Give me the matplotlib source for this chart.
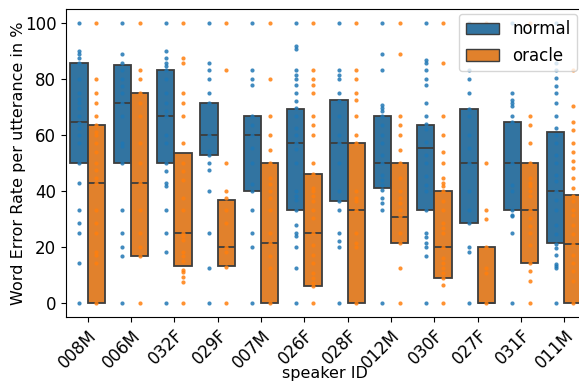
import numpy as np
import matplotlib
matplotlib.use("Agg")
import matplotlib.pyplot as plt
from matplotlib.patches import Patch

speakers = ["008M", "006M", "032F", "029F", "007M", "026F",
            "028F", "012M", "030F", "027F", "031F", "011M"]

# box stats (WER %)
normal_q1 = [50.0, 50.0, 50.0, 52.7, 40.0, 33.3, 36.2, 40.9, 33.3, 28.6, 33.3, 21.3]
normal_med = [64.5, 71.4, 66.7, 60.0, 60.0, 57.1, 57.1, 50.0, 55.5, 50.0, 50.0, 40.0]
normal_q3 = [85.7, 85.0, 83.3, 71.4, 66.7, 69.2, 72.6, 66.7, 63.6, 69.2, 64.6, 61.1]

oracle_q1 = [0.0, 16.7, 13.1, 13.1, 0.0, 5.8, 0.0, 21.3, 8.7, 0.0, 14.3, 0.0]
oracle_med = [42.9, 42.9, 25.0, 20.0, 21.4, 25.0, 33.3, 30.8, 20.0, 0.0, 33.3, 20.8]
oracle_q3 = [63.6, 75.0, 53.4, 36.8, 50.0, 46.1, 57.1, 50.0, 40.0, 20.0, 50.0, 38.5]

# individual utterance WERs (unique values visible)
normal_points = [
    [100, 90, 89, 87.5, 85.7, 80, 75, 72.7, 71.4, 69.6, 66.7, 64.3, 62.5, 60, 57.1, 50, 42.9, 33.3, 28.6, 25, 14.3, 0],
    [100, 88.9, 85.7, 83.3, 80, 77.4, 75, 71.4, 66.7, 57.1, 55.9, 50, 33.3, 25, 20, 16.6, 0],
    [100, 90, 87.5, 85.7, 84.5, 83.3, 80, 75, 71.4, 68.4, 66.7, 60, 57.1, 50, 47, 42.8, 41.6, 33.3, 25, 18.1, 0],
    [100, 85.7, 83.3, 80, 75, 71.4, 60, 54.1, 52.7, 50, 47.3, 40, 25, 12.4, 0],
    [100, 83.3, 80, 77.7, 66.7, 63.6, 60, 55.5, 50, 42.5, 40, 33.3, 25, 20, 0],
    [100, 91.7, 90.7, 83.3, 81.5, 80, 77.7, 75, 72.2, 69.8, 66.7, 62.5, 60, 57.1, 55, 50, 39.8, 38, 36.6, 33.3, 27.9, 25, 23.7, 20, 12.4, 0],
    [100, 83.3, 81.5, 80, 75, 72.2, 66.7, 60, 57.1, 50, 39.8, 36.2, 33.3, 25, 22.2, 20, 0],
    [100, 88.9, 83.3, 70.8, 69.8, 68.4, 66.7, 63.6, 60, 57.1, 52.9, 50, 45.8, 44, 42, 40.4, 37.4, 35.6, 33.3, 0],
    [100, 86.9, 85.7, 83.3, 80, 77.7, 71.4, 66.7, 63.9, 62, 57.5, 52.9, 50, 45.2, 42, 40, 33.3, 25, 23.4, 21.3, 20, 16.6, 0],
    [100, 90, 83.3, 80, 75, 69.4, 66.7, 60, 55.5, 50, 40, 33.3, 28.5, 20, 18.1, 0],
    [100, 75, 72.6, 71.4, 70.2, 66.7, 64.8, 50, 42, 40, 33.3, 31.5, 31, 25, 0],
    [100, 85.7, 83.3, 80.3, 77.4, 75, 71.4, 66.7, 62.5, 60, 57.1, 52.9, 50, 45.8, 43.5, 40, 36.6, 33.3, 27.9, 24.4, 20.8, 19.5, 16.9, 13.8, 13, 12.4, 0],
]
oracle_points = [
    [100, 80, 75, 71.4, 66.7, 63.6, 61, 60, 57.1, 53.8, 50, 47.4, 44.6, 42.9, 33.3, 28.5, 25, 18.1, 16.9, 14.2, 0],
    [100, 83.3, 80, 75, 71.4, 66.7, 57.1, 50, 42.9, 33.3, 25, 20, 16.7, 0],
    [100, 87.5, 85.7, 75, 71.4, 66.7, 57.1, 50, 47.2, 43.7, 37.4, 33.3, 25, 23.7, 22.5, 18.1, 16.6, 14.8, 11.8, 11, 9.1, 7.3, 0],
    [100, 83.3, 50, 40, 37.4, 33.3, 28.5, 20, 18.1, 12.8, 0],
    [100, 80, 66.7, 60, 54.5, 50, 44.6, 42.5, 39.8, 37.4, 33.3, 25, 21.3, 16.8, 12.4, 0],
    [100, 83.3, 80, 77.7, 75, 66.7, 63.6, 60, 50, 46, 41, 39.8, 38, 36.2, 33.3, 30.3, 25, 20.7, 17.2, 14.2, 10.6, 8.8, 7, 5.8, 0],
    [100, 83.3, 80, 75, 72.6, 66.7, 60, 57.1, 39.8, 37.4, 36.2, 33.3, 25, 21.3, 20, 0],
    [100, 88.9, 66.7, 63.6, 60, 54.5, 50, 44.6, 39.8, 37.4, 35.6, 33.3, 30.9, 25, 21.3, 12.4, 0],
    [100, 85.7, 66.7, 60, 53.9, 50, 44.6, 42.9, 41.6, 39.8, 36.2, 33.3, 28.5, 26.7, 25, 20, 16.1, 14.2, 12.4, 10.6, 8.8, 6.4, 0],
    [100, 50, 33.3, 30, 20, 12.4, 10.6, 0],
    [100, 66.7, 63.6, 57.1, 50, 44.6, 42.9, 41.6, 39.8, 38, 33.3, 30.3, 27.3, 25, 20.7, 14.2, 11.2, 7.6, 0],
    [83.3, 70.2, 64.8, 61.9, 57.1, 54, 50.5, 48, 44.6, 41, 38, 36.2, 33.3, 31.5, 27.9, 24.4, 20.8, 17.2, 14.2, 11.2, 7.6, 0],
]

box_colors = ["#3274a1", "#e1812c"]
dot_colors = ["#1f77b4", "#ff7f0e"]
edge = "#3d3d3d"

fig = plt.figure(figsize=(5.79, 3.81), dpi=100)
ax = fig.add_axes([0.114, 0.169, 0.898, 0.807])

x = np.arange(len(speakers))
w = 0.4
groups = [(normal_q1, normal_med, normal_q3, normal_points),
          (oracle_q1, oracle_med, oracle_q3, oracle_points)]
for k, (q1, med, q3, pts) in enumerate(groups):
    pos = x - w / 2 + k * w
    q1 = np.array(q1)
    q3 = np.array(q3)
    ax.bar(pos, q3 - q1, bottom=q1, width=w, color=box_colors[k],
           edgecolor=edge, linewidth=1.3, zorder=2)
    ax.hlines(med, pos - w / 2, pos + w / 2, colors=edge, linewidth=1.3, zorder=3)
    for i, p in enumerate(pts):
        ax.scatter(np.full(len(p), pos[i]), p, s=9, color=dot_colors[k],
                   alpha=0.85, linewidths=0, zorder=4)

ax.set_xlim(-0.5, 11.5)
ax.set_ylim(-5, 105)
ax.set_xticks(x)
ax.set_xticklabels(speakers, rotation=45, ha="right", rotation_mode="anchor", fontsize=12)
ax.tick_params(axis="y", labelsize=12)
ax.set_xlabel("speaker ID", fontsize=11.5)
ax.set_ylabel("Word Error Rate per utterance in %", fontsize=11.5)
ax.xaxis.set_label_coords(0.498, -0.162)
ax.yaxis.set_label_coords(-0.077, 0.5)
ax.spines["right"].set_visible(False)

handles = [Patch(facecolor=box_colors[0], edgecolor=edge, label="normal"),
           Patch(facecolor=box_colors[1], edgecolor=edge, label="oracle")]
ax.legend(handles=handles, loc="upper right", fontsize=12,
          bbox_to_anchor=(0.983, 0.985), borderaxespad=0)

fig.savefig("out.png", dpi=100)
